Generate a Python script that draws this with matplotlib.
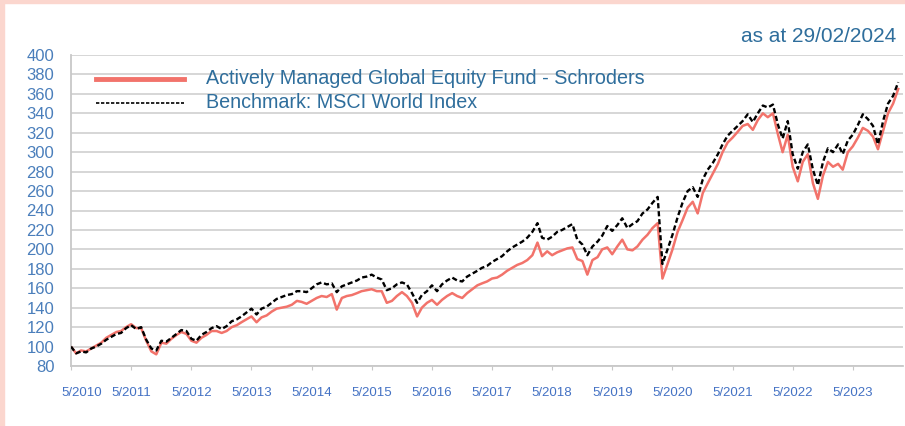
import pandas as pd
import matplotlib
matplotlib.use("Agg")
import matplotlib.pyplot as plt
import matplotlib.dates as mdates
import matplotlib.transforms as mtransforms
from matplotlib.patches import Rectangle

plt.rcParams['font.family'] = ['Liberation Sans', 'DejaVu Sans']

start_month = "2010-05"
fund = [100, 93, 96, 95, 98, 101, 104, 109, 112, 115, 116, 120,
        123, 119, 119, 106, 95, 92, 104, 103, 108, 112, 115, 113,
        106, 104, 109, 112, 116, 116, 114, 116, 120, 122, 125, 128,
        131, 125, 130, 132, 136, 139, 140, 141, 143, 147, 146, 144,
        147, 150, 152, 151, 154, 138, 150, 152, 153, 155, 157, 158,
        159, 157, 157, 145, 147, 152, 156, 152, 145, 131, 140, 145,
        148, 143, 148, 152, 155, 152, 150, 155, 159, 163, 165, 167,
        170, 171, 174, 178, 181, 184, 186, 189, 194, 207, 193, 198,
        194, 197, 199, 201, 202, 190, 188, 174, 189, 192, 200, 202,
        195, 203, 210, 200, 199, 203, 210, 215, 222, 227, 170, 185,
        200, 218, 230, 243, 249, 237, 258, 268, 278, 288, 300, 310,
        315, 321, 327, 329, 323, 333, 340, 336, 340, 318, 300, 318,
        285, 270, 290, 298, 268, 252, 276, 290, 285, 288, 282, 300,
        306, 315, 325, 322, 316, 303, 322, 340, 350, 365]
benchmark = [100, 93, 95, 94, 98, 100, 103, 107, 110, 113, 114, 119,
             122, 118, 120, 107, 98, 96, 106, 105, 109, 113, 117, 116,
             108, 106, 112, 115, 119, 121, 118, 121, 126, 128, 131, 135,
             139, 133, 139, 141, 145, 149, 151, 153, 154, 157, 157, 156,
             160, 164, 166, 164, 165, 156, 162, 164, 166, 168, 171, 172,
             174, 171, 169, 158, 160, 164, 166, 164, 155, 145, 153, 157,
             163, 157, 164, 168, 171, 168, 167, 172, 175, 178, 181, 183,
             187, 190, 193, 198, 202, 205, 208, 212, 218, 227, 212, 210,
             213, 218, 220, 223, 226, 210, 205, 194, 203, 208, 214, 224,
             219, 225, 232, 222, 226, 229, 237, 241, 248, 254, 185, 200,
             215, 233, 248, 260, 264, 254, 272, 282, 289, 298, 308, 317,
             322, 327, 332, 339, 331, 340, 348, 346, 349, 328, 314, 332,
             298, 283, 300, 308, 282, 266, 290, 304, 300, 308, 298, 312,
             318, 328, 339, 334, 327, 308, 332, 350, 358, 372]
fund_label = "Actively Managed Global Equity Fund - Schroders"
bench_label = "Benchmark: MSCI World Index"
date_note = "as at 29/02/2024"
yticks = list(range(80, 401, 20))

dates = pd.date_range(start_month, periods=len(fund), freq="MS")

fig = plt.figure(figsize=(9.05, 4.26), dpi=100)
ax = fig.add_axes([71 / 905, 60 / 426, 832 / 905, 311 / 426])

ax.plot(dates, benchmark, color="black", lw=1.7, ls=(0, (2.2, 1.2)), zorder=3)
ax.plot(dates, fund, color="#F2736B", lw=1.8, zorder=2)

ax.set_ylim(80, 400)
ax.set_xlim(pd.Timestamp("2010-05-01"), pd.Timestamp("2024-03-01"))
ax.set_yticks(yticks)
ax.yaxis.grid(True, color="#D3D3D3", lw=1.3)
ax.set_axisbelow(True)
for s in ["top", "right"]:
    ax.spines[s].set_visible(False)
for s in ["left", "bottom"]:
    ax.spines[s].set_color("#C8C8C8")
    ax.spines[s].set_linewidth(1.3)

ax.xaxis.set_major_locator(mdates.MonthLocator(bymonth=5))
ax.xaxis.set_major_formatter(mdates.DateFormatter("%m/%Y"))
ax.set_xticklabels([f"5/{d.year}" for d in pd.date_range("2010-05-01", "2023-05-01", freq="12MS")])
ax.tick_params(axis="x", length=3, color="#C8C8C8", pad=12, labelsize=9.5, labelcolor="#4472C4")
ax.tick_params(axis="y", length=0, pad=12, labelsize=12, labelcolor="#4A7EBB")

# first label sits a bit right of its tick in the source
first = ax.get_xticklabels()[0]
first.set_transform(first.get_transform() + mtransforms.ScaledTranslation(11 / 100, 0, fig.dpi_scale_trans))

# legend drawn by hand, as in the source
ax.plot([0.03, 0.136], [0.923, 0.923], transform=ax.transAxes, color="#F2736B", lw=3.5, clip_on=False)
ax.plot([0.03, 0.136], [0.846, 0.846], transform=ax.transAxes, color="black", lw=1.2,
        ls=(0, (2, 1)), clip_on=False)
ax.text(0.162, 0.923, fund_label, transform=ax.transAxes, fontsize=14.2, color="#2F6E9C", va="center")
ax.text(0.162, 0.846, bench_label, transform=ax.transAxes, fontsize=14.2, color="#2F6E9C", va="center")
fig.text(896 / 905, 1 - 37 / 426, date_note, fontsize=15, color="#2F6E9C", ha="right", va="center")

# pink frame edges
fig.patches.append(Rectangle((0, 0), 4 / 905, 1, transform=fig.transFigure, color="#FBD6CE", zorder=0))
fig.patches.append(Rectangle((0, 1 - 3 / 426), 1, 3 / 426, transform=fig.transFigure, color="#FBD6CE", zorder=0))

fig.savefig("out.png", dpi=100)
